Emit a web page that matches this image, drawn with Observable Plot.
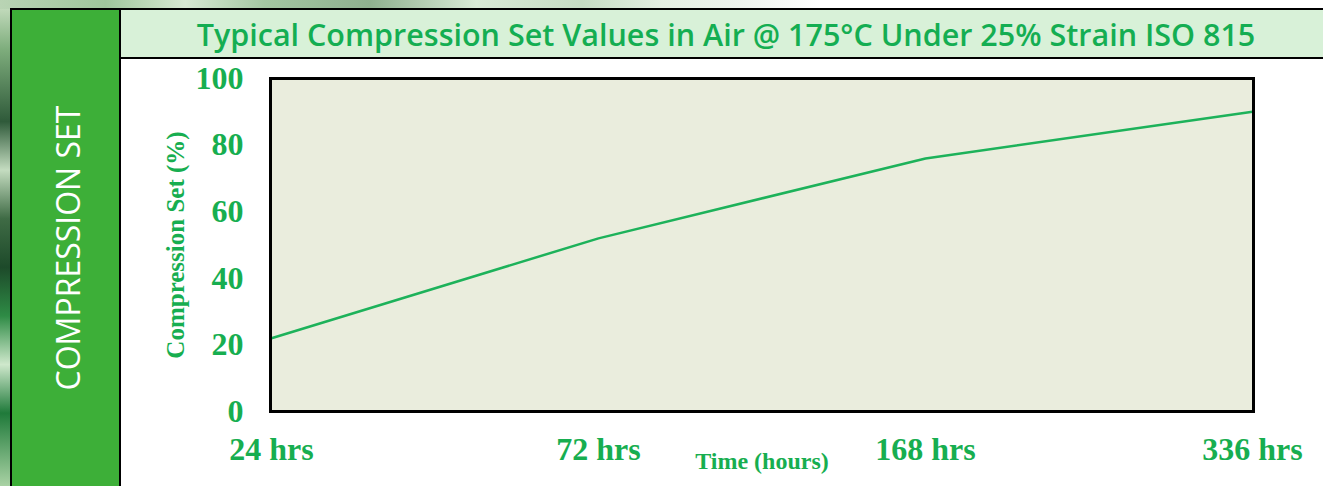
<!DOCTYPE html>
<html>
<head>
<meta charset="utf-8">
<script src="https://cdn.jsdelivr.net/npm/d3@7"></script>
<script src="https://cdn.jsdelivr.net/npm/@observablehq/plot@0.6"></script>
<style>
  html, body { margin: 0; padding: 0; background: #fff; }
  #root { position: relative; width: 1323px; height: 486px; overflow: hidden; background: #fff; }
  #bgLeft { position: absolute; left: 0; top: 0; width: 12px; height: 486px;
    background: linear-gradient(180deg, #cfe3c8 0%, #7fae7d 10%, #2f5a3a 25%, #c4dcc0 35%, #3f6b45 45%, #1d4a2a 55%, #2e8b45 65%, #cfe8cc 75%, #1f7a3a 85%, #a9d2a4 100%); }
  #bgTop { position: absolute; left: 0; top: 0; width: 1323px; height: 9px;
    background: linear-gradient(90deg, #b9d4b4 0%, #9fc69c 8%, #d7e9d3 14%, #a3c7a2 20%, #8fb08f 28%, #d9ebd6 36%, #c6ddc4 44%, #e4efe2 50%, #eef4ee 56%, #ffffff 62%, #ffffff 100%); }
  #panel { position: absolute; left: 10px; top: 8px; width: 111px; height: 480px; box-sizing: border-box;
    background: #3DAF38; border-left: 2px solid #000; border-top: 2px solid #000; border-right: 2px solid #000; }
  #panelText { position: absolute; left: 67px; top: 248px; transform: translate(-50%, -50%) rotate(-90deg);
    color: #fff; font-family: "Open Sans", sans-serif; font-size: 32px; white-space: nowrap; }
  #titleBar { position: absolute; left: 121px; top: 8px; width: 1202px; height: 51px; box-sizing: border-box;
    background: #D8F1D8; border-top: 2px solid #000; border-bottom: 2px solid #000;
    display: flex; align-items: center; justify-content: center; padding-left: 8px;
    color: #14AE52; font-family: "Open Sans", sans-serif; font-weight: 600; font-size: 30.5px; white-space: nowrap; }
  #chart { position: absolute; left: 121px; top: 59px; }
</style>
</head>
<body>
<div id="root">
  <div id="bgLeft"></div>
  <div id="bgTop"></div>
  <div id="panel"></div>
  <div id="panelText">COMPRESSION SET</div>
  <div id="titleBar">Typical Compression Set Values in Air @ 175°C Under 25% Strain ISO 815</div>
  <div id="chart"></div>
</div>
<script>
const categories = ["24 hrs", "72 hrs", "168 hrs", "336 hrs"];
const compressionSet = [22, 52, 76, 90];
const yTicks = [0, 20, 40, 60, 80, 100];
const xTitle = "Time (hours)";
const yTitle = "Compression Set (%)";

const green = "#17AE50";
const data = categories.map((t, i) => ({t, v: compressionSet[i]}));
const serif = "'Liberation Serif', 'Times New Roman', serif";

const chart = Plot.plot({
  width: 1202,
  height: 427,
  marginLeft: 149,
  marginRight: 70,
  marginTop: 19,
  marginBottom: 75,
  style: {background: "transparent", overflow: "visible"},
  x: {type: "point", domain: categories, padding: 0, label: null},
  y: {domain: [0, 100], label: null},
  marks: [
    Plot.frame({fill: "#EAEDDD"}),
    Plot.line(data, {x: "t", y: "v", stroke: "#1DB25A", strokeWidth: 2.5}),
    Plot.frame({stroke: "#000", strokeWidth: 3}),
    Plot.axisY(yTicks, {tickSize: 0, tickPadding: 27, fontSize: 32, fontFamily: serif, fontWeight: "bold", fill: green, label: null}),
    Plot.axisX(categories, {tickSize: 0, tickPadding: 26, fontSize: 32, fontFamily: serif, fontWeight: "bold", fill: green, label: null}),
    Plot.text([yTitle], {text: d => d, frameAnchor: "left", textAnchor: "middle", dx: -95, rotate: -90, fontSize: 25, fontFamily: serif, fontWeight: "bold", fill: green}),
    Plot.text([xTitle], {text: d => d, frameAnchor: "bottom", dy: 57, fontSize: 24, fontFamily: serif, fontWeight: "bold", fill: green})
  ]
});
document.getElementById("chart").appendChild(chart);
</script>
</body>
</html>
